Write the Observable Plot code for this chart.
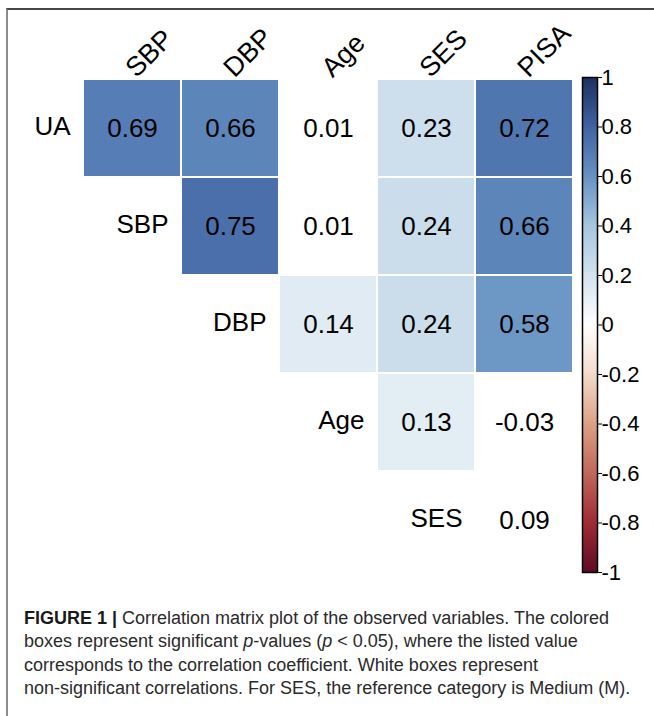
<!DOCTYPE html>
<html>
<head>
<meta charset="utf-8">
<script src="https://cdn.jsdelivr.net/npm/d3@7"></script>
<script src="https://cdn.jsdelivr.net/npm/@observablehq/plot@0.6"></script>
<style>
  html, body { margin: 0; padding: 0; background: #fff; }
  body { width: 654px; height: 716px; overflow: hidden; position: relative; font-family: "Liberation Sans", Arial, sans-serif; }
  #frame { position: absolute; left: 6px; top: 8px; width: 700px; height: 760px; border-top: 2px solid #474747; border-left: 2px solid #8c8c8c; box-sizing: border-box; }
  #chart { position: absolute; left: 0; top: 0; }
  #bar { position: absolute; left: 572px; top: 57px; }
  #bar svg text { font-size: 22px; }
  #caption { position: absolute; left: 24px; top: 607px; font-size: 18px; line-height: 23.4px; color: #2a2a2a; white-space: nowrap; }
  #caption b { color: #1a1a1a; }
</style>
</head>
<body>
<div id="frame"></div>
<div id="chart"></div>
<div id="bar"></div>
<div id="caption">
<b>FIGURE 1 |</b> Correlation matrix plot of the observed variables. The colored<br>
boxes represent significant <i>p</i>-values (<i>p</i> &lt; 0.05), where the listed value<br>
corresponds to the correlation coefficient. White boxes represent<br>
non-significant correlations. For SES, the reference category is Medium (M).
</div>
<script>
// ---- data ----
const rowVars = ["UA", "SBP", "DBP", "Age", "SES"];
const colVars = ["SBP", "DBP", "Age", "SES", "PISA"];
const cellRow = ["UA","UA","UA","UA","UA","SBP","SBP","SBP","SBP","DBP","DBP","DBP","Age","Age","SES"];
const cellCol = ["SBP","DBP","Age","SES","PISA","DBP","Age","SES","PISA","Age","SES","PISA","SES","PISA","PISA"];
const cellR   = [0.69, 0.66, 0.01, 0.23, 0.72, 0.75, 0.01, 0.24, 0.66, 0.14, 0.24, 0.58, 0.13, -0.03, 0.09];
const cellSig = [true, true, false, true, true, true, false, true, true, true, true, true, true, false, false];
const barTicks = [-1, -0.8, -0.6, -0.4, -0.2, 0, 0.2, 0.4, 0.6, 0.8, 1];
const colorStops = [-1, -0.8, -0.6, -0.4, -0.2, 0, 0.2, 0.4, 0.6, 0.8, 1];
const colorRange = ["#5e0b24", "#9f2b35", "#c0675b", "#dca184", "#f4dacb", "#ffffff",
                    "#d4e3ee", "#a7c6df", "#6793c3", "#4163a3", "#1d3260"];

const cells = cellR.map((r, i) => ({row: cellRow[i], col: cellCol[i], r, sig: cellSig[i]}));
const fmt = v => (v < 0 ? "-" : "") + Math.abs(v).toFixed(2);
const tickFmt = v => {
  if (v === 0) return "0";
  const a = Math.abs(v);
  const s = Number.isInteger(a) ? String(a) : a.toFixed(1);
  return (v < 0 ? "-" : "") + s;
};
const colorScale = {type: "linear", domain: colorStops, range: colorRange};
const FONT = "'Liberation Sans', Arial, Helvetica, sans-serif";

const chart = Plot.plot({
  width: 654,
  height: 600,
  margin: 0,
  style: {fontFamily: FONT, background: "transparent", color: "#000"},
  x: {type: "band", domain: ["UA", ...colVars], range: [-15, 573], padding: 0, axis: null},
  y: {type: "band", domain: rowVars, range: [79, 569], padding: 0, axis: null},
  color: colorScale,
  marks: [
    Plot.cell(cells.filter(d => d.sig), {x: "col", y: "row", fill: "r", inset: 1}),
    Plot.text(cells, {x: "col", y: "row", text: d => fmt(d.r), fontSize: 26, fill: "#000"}),
    Plot.text(rowVars, {x: d => d, y: d => d, text: d => d, dx: 36, dy: -2, textAnchor: "end", fontSize: 26, fill: "#000"}),
    Plot.text(colVars, {x: d => d, y: () => "UA", text: d => d, dx: -2, dy: -56, rotate: -45, textAnchor: "start", fontSize: 27, fill: "#000"})
  ]
});
document.getElementById("chart").appendChild(chart);

const bar = Plot.plot({
  width: 82,
  height: 535,
  marginLeft: 10,
  marginRight: 57,
  marginTop: 20,
  marginBottom: 20,
  style: {fontFamily: FONT, background: "transparent", color: "#000", overflow: "visible"},
  x: {domain: [0, 1], axis: null},
  y: {domain: [-1, 1], axis: null},
  color: colorScale,
  marks: [
    Plot.raster({fill: (x, y) => y, x1: 0, x2: 1, y1: -1, y2: 1, width: 1, height: 495, imageRendering: "auto"}),
    Plot.frame({stroke: "#000", strokeWidth: 1.5}),
    Plot.axisY(barTicks, {anchor: "right", tickSize: 4, tickPadding: 0, tickFormat: tickFmt, fontSize: 22, stroke: "#000"})
  ]
});
document.getElementById("bar").appendChild(bar);
</script>
</body>
</html>
